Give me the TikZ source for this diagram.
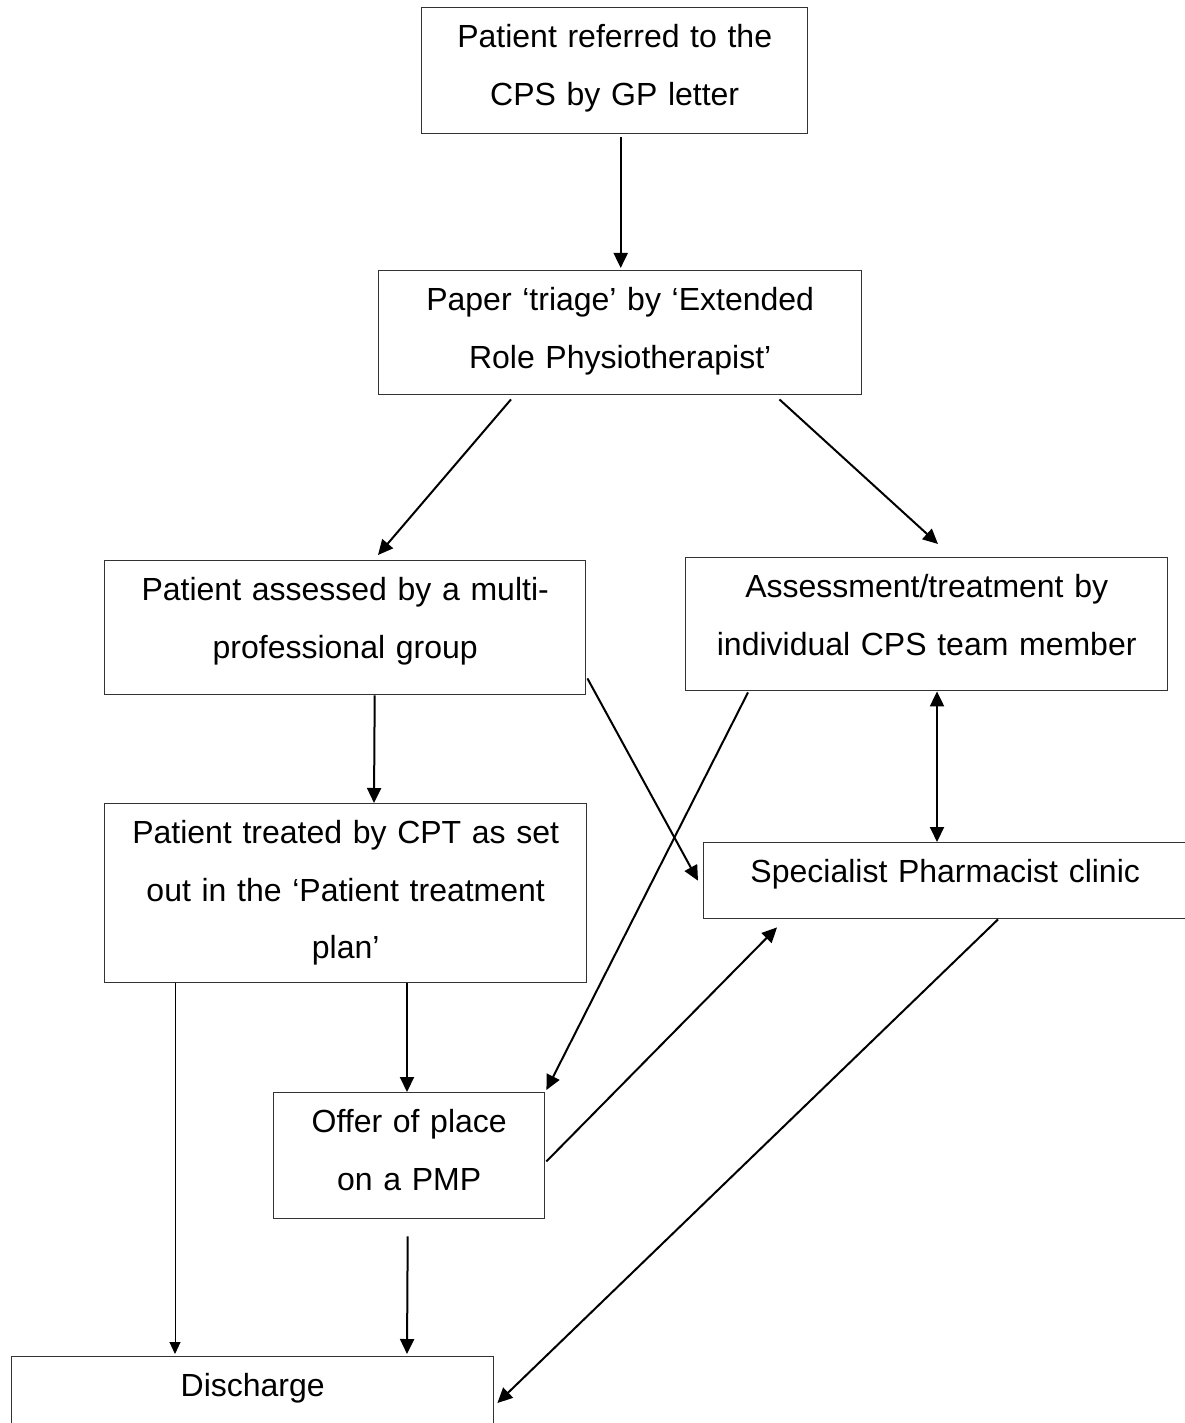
\documentclass[tikz,border=0pt]{standalone}
\usepackage{fontspec}
\setmainfont{Liberation Sans}
\usetikzlibrary{calc,arrows.meta}
\newcommand{\boxfont}{\fontsize{16pt}{28.75pt}\selectfont}

\begin{document}
\begin{tikzpicture}[x=0.5pt,y=-0.5pt,
  stepbox/.style={draw=black!80,line width=0.7pt,inner sep=0pt,anchor=north west,
    align=center,font=\boxfont,text height=20pt},
  arr/.style={-{Triangle[length=7.5pt,width=7pt]},line width=1pt},
  thinarr/.style={-{Triangle[length=6pt,width=5.5pt]},line width=0.5pt},
  duoarr/.style={{Triangle[length=7.5pt,width=7pt]}-{Triangle[length=7.5pt,width=7pt]},line width=1pt}]
\useasboundingbox (0,0) rectangle (1184,1423);
\node[stepbox,text width=193pt,text depth=43pt] (N0) at (421,7) {Patient referred to the\\CPS by GP letter};
\node[stepbox,text width=241.5pt,text depth=42pt] (N1) at (378,270) {Paper ‘triage’ by ‘Extended\\Role Physiotherapist’};
\node[stepbox,text width=240.5pt,text depth=47pt] (N2) at (104,560) {Patient assessed by a multi-\\professional group};
\node[stepbox,text width=241pt,text depth=46.5pt] (N3) at (685,557) {Assessment/treatment by\\individual CPS team member};
\node[stepbox,text width=241pt,text depth=69.5pt] (N4) at (104,803) {Patient treated by CPT as set\\out in the ‘Patient treatment\\plan’};
\node[stepbox,text width=241.5pt,text depth=18pt] (N5) at (703,842) {Specialist Pharmacist clinic};
\node[stepbox,text width=135.5pt,text depth=43pt] (N6) at (273,1092) {Offer of place\\on a PMP};
\node[stepbox,text width=241pt,text depth=40pt] (N7) at (11,1356) {Discharge};
\draw[arr] ($(N0.south)+(6,3)$) -- ($(N1.north)+(0.5,-2)$);
\draw[arr] ($(N1.south west)+(133,4)$) -- ($(N2.north west)+(274,-5)$);
\draw[arr] ($(N1.south east)+(-83,4)$) -- ($(N3.north west)+(253,-13)$);
\draw[arr] ($(N2.south)+(29.5,0)$) -- ($(N4.north west)+(270,0)$);
\draw[arr] ($(N2.south east)+(1,-17)$) -- ($(N5.west)+(-5,0)$);
\draw[arr] ($(N3.south west)+(63,1)$) -- ($(N6.north east)+(1,-2)$);
\draw[duoarr] ($(N3.south west)+(252,0)$) -- ($(N5.north west)+(234,0)$);
\draw[thinarr] ($(N4.south west)+(71,0)$) -- ($(N7.north west)+(164,-2)$);
\draw[arr] ($(N4.south west)+(303,0)$) -- ($(N6.north west)+(134,0)$);
\draw[arr] ($(N6.south east)+(1,-58)$) -- ($(N5.south west)+(74,8)$);
\draw[arr] ($(N6.south)+(-1.5,17)$) -- ($(N7.north west)+(396,-2)$);
\draw[arr] ($(N5.south west)+(295,0)$) -- ($(N7.north east)+(3,47)$);
\end{tikzpicture}
\end{document}
